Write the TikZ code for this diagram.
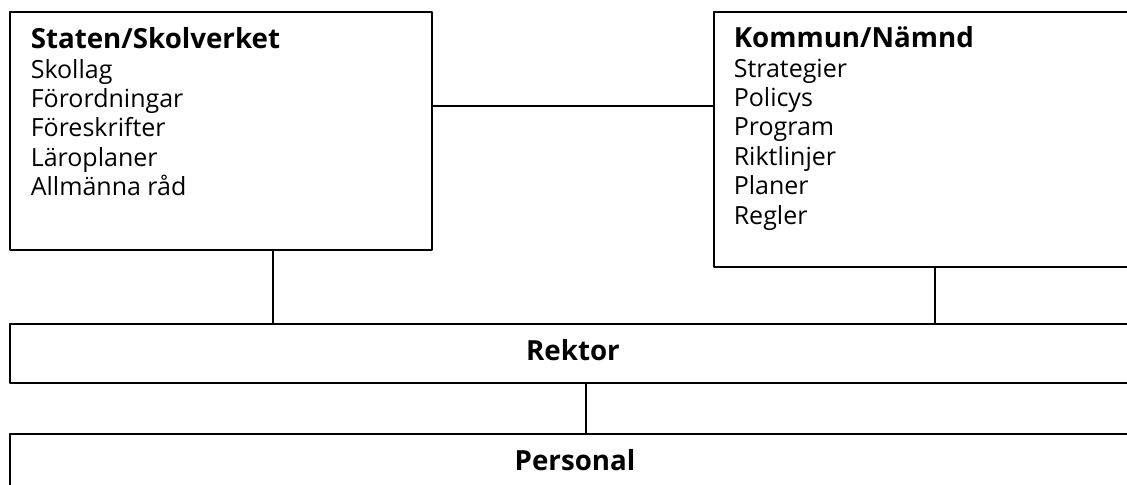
\documentclass[tikz,border=0pt]{standalone}
\usepackage{fontspec}
\setmainfont{Open Sans}
\newcommand{\boxhead}[1]{{\fontsize{13.3}{14.1}\selectfont\bfseries #1}}
\begin{document}
\begin{tikzpicture}[x=0.48pt,y=-0.48pt,line join=round,line width=0.75pt,
	box/.style={draw,rectangle,inner sep=0pt,anchor=north west},
	txt/.style={inner sep=0pt,align=left,anchor=north west,font=\fontsize{12}{14.1}\selectfont},
	head/.style={inner sep=0pt,font=\fontsize{12}{14.1}\selectfont}]
	\useasboundingbox (0,0) rectangle (1127,484);
	\path 
	(0,106) coordinate (h)
	(273,0) coordinate (v1)
	(935,0) coordinate (v2)
	(586,0) coordinate (v3)
	;
	% boxes
	\node[box,minimum width=422*0.48pt,minimum height=238*0.48pt] (stat) at (9,11) {};
	\node[box,minimum width=424*0.48pt,minimum height=255*0.48pt] (komm) at (713,11) {};
	\node[box,minimum width=1128*0.48pt,minimum height=59*0.48pt] (rektor) at (9,323) {};
	\node[box,minimum width=1128*0.48pt,minimum height=80*0.48pt] (pers) at (9,433) {};
	% texts
	\node[txt] (stattxt) at (30,27) {\boxhead{Staten/Skolverket}\\Skollag\\Förordningar\\Föreskrifter\\Läroplaner\\Allmänna råd};
	\node[txt] (kommtxt) at (733,26) {\boxhead{Kommun/Nämnd}\\Strategier\\Policys\\Program\\Riktlinjer\\Planer\\Regler};
	\node[head] (rektortxt) at (573,350) {\boxhead{Rektor}};
	\node[head] (perstxt) at (575,460) {\boxhead{Personal}};
	% connectors
	\draw (stat.east |- h)--(komm.west |- h)
	(stat.south -| v1)--(rektor.north -| v1)
	(komm.south -| v2)--(rektor.north -| v2)
	(rektor.south -| v3)--(pers.north -| v3);
\end{tikzpicture}
\end{document}
